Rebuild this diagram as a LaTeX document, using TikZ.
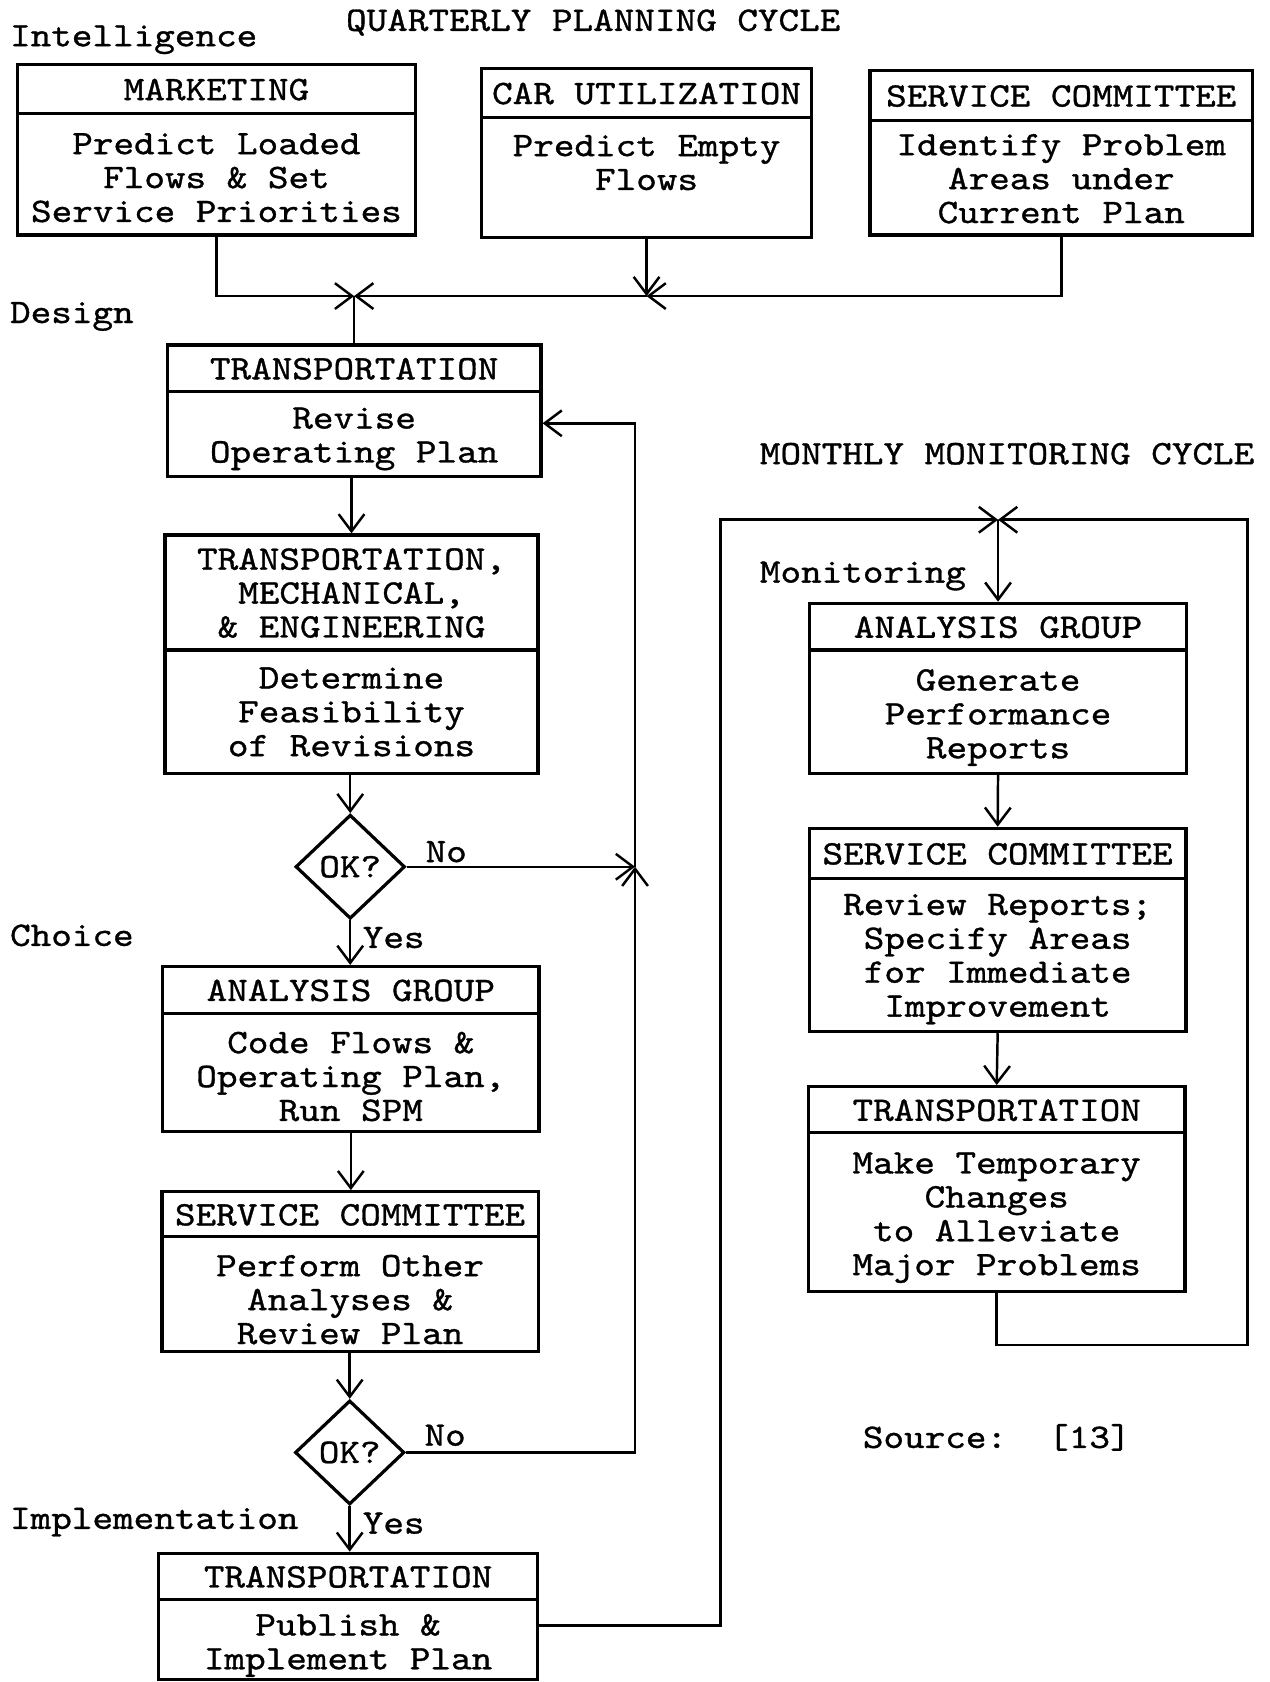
\documentclass[tikz,border=0pt]{standalone}
\usepackage{fontspec}
\setmainfont{lmmono10-regular.otf}[FakeStretch=1.143,FakeBold=1]
\usetikzlibrary{arrows.meta,shapes.geometric,fit,calc}

% Two-part process box: name, x1, y1, x2, y2, divider y, body centre y, header, body
\newcommand\procbox[9]{%
  \node[pbox, fit={(#2,#3) (#4,#5)}] (#1) {};
  \draw[line width=1.5pt] (#1.west |- 0,#6) -- (#1.east |- 0,#6);
  \node (#1-head) at ($(#2,#3)!0.5!(#4,#6)+(0,4)$) {\strut #8\strut};
  \node (#1-body) at ($(#1.center |- 0,#7)+(0,3)$) {\strut #9\strut};
}

\begin{document}
\setlength{\lineskiplimit}{-100pt}
\begin{tikzpicture}[x=0.5pt,y=-0.5pt,
  every node/.style={inner sep=0pt, align=center,
    font=\fontsize{16pt}{15.8pt}\selectfont},
  pbox/.style={draw, line width=1.5pt, inner sep=0pt},
  conn/.style={line width=1.15pt},
  arr/.style={conn, -{Straight Barb[length=8pt,width=12pt]}},
  decision/.style={draw, diamond, line width=1.5pt, minimum width=51pt, minimum height=48.5pt},
  stage/.style={anchor=west}]
\useasboundingbox (0,0) rectangle (1183,1568);

% headings and phase labels
\node (qpc) at (553,21) {QUARTERLY PLANNING CYCLE};
\node[stage] (lint) at (9,37) {Intelligence};
\node[stage] (ldes) at (9,295) {Design};
\node[stage] (lcho) at (9,872) {Choice};
\node[stage] (limp) at (9,1419) {Implementation};
\node[stage] (mmc) at (708,423) {MONTHLY MONITORING CYCLE};
\node[stage] (lmon) at (708,537) {Monitoring};
\node[stage] (src) at (804,1340) {Source:\ \ [13]};

% quarterly planning: intelligence
\procbox{mkt}{16.6}{60}{387}{219}{106}{166}{MARKETING}{Predict Loaded\\Flows \& Set\\Service Priorities}
\procbox{car}{449}{64}{756.5}{221.6}{109.4}{152}{CAR UTILIZATION}{Predict Empty\\Flows}
\procbox{scT}{811}{66}{1167.7}{219}{112}{167}{SERVICE COMMITTEE}{Identify Problem\\Areas under\\Current Plan}

% design and choice
\procbox{tr1}{156}{321.6}{504.3}{444.5}{365}{406}{TRANSPORTATION}{Revise\\Operating Plan}
\procbox{tme}{153.8}{498.7}{501.6}{720.8}{606}{664}{TRANSPORTATION,\\MECHANICAL,\\\& ENGINEERING}{Determine\\Feasibility\\of Revisions}
\node[decision] (d1) at (326.5,808) {OK?};
\procbox{ag1}{151.6}{901}{502.5}{1055}{944.6}{1004}{ANALYSIS GROUP}{Code Flows \&\\Operating Plan,\\Run SPM}
\procbox{sc1}{151}{1111}{501.7}{1260}{1153}{1212}{SERVICE COMMITTEE}{Perform Other\\Analyses \&\\Review Plan}
\node[decision] (d2) at (326,1354) {OK?};
\procbox{pub}{148}{1448}{501}{1566}{1491}{1531}{TRANSPORTATION}{Publish \&\\Implement Plan}

\node (no1) at (416,794) {No};
\node (yes1) at (367,874) {Yes};
\node (no2) at (415,1338) {No};
\node (yes2) at (367,1420) {Yes};

% monthly monitoring
\procbox{ag2}{754.5}{562.4}{1106.3}{721}{606}{666}{ANALYSIS GROUP}{Generate\\Performance\\Reports}
\procbox{sc2}{754.5}{772.2}{1105.6}{961.7}{818.8}{891}{SERVICE COMMITTEE}{Review Reports;\\Specify Areas\\for Immediate\\Improvement}
\procbox{tr2}{753.6}{1013}{1104.7}{1204}{1056}{1132}{TRANSPORTATION}{Make Temporary\\Changes\\to Alleviate\\Major Problems}

% junctions and corners
\coordinate (J1) at (tr1.north |- 0,276);
\coordinate (J2) at (car.south |- 0,276);
\coordinate (J3) at (d1.east -| 592,0);
\coordinate (K1) at (592,394.6);
\coordinate (J4) at (ag2.north |- 0,484.5);
\coordinate (c1) at (671.8,1515.5);
\coordinate (c2) at (671.8,484.5);
\coordinate (c3) at (1163,1254);
\coordinate (c4) at (1163,484.5);

% intelligence inputs merge into design
\draw[arr] (mkt.south) |- (J1);
\draw[arr] (car.south) -- (J2);
\draw[arr] (scT.south) |- (J2);
\draw[arr] (J2) -- (J1);
\draw[conn] (J1) -- (tr1.north);

% main planning sequence
\draw[arr] (tr1.south -| tme.north) -- (tme.north);
\draw[arr] (tme.south -| d1.north) -- (d1.north);
\draw[arr] (d1.south) -- (d1.south |- ag1.north);
\draw[arr] (ag1.south) -- (ag1.south |- sc1.north);
\draw[arr] (sc1.south -| d2.north) -- (d2.north);
\draw[arr] (d2.south) -- (d2.south |- pub.north);

% rejection loops back to revision
\draw[arr] (d1.east) -- (J3);
\draw[arr] (d2.east) -| (J3);
\draw[arr] (J3) -- (K1) -- (K1 -| tr1.east);

% monitoring cycle
\draw[arr] (c1 -| pub.east) -- (c1) -- (c2) -- (J4);
\draw[arr] (tr2.south) |- (c3) -- (c4) -- (J4);
\draw[arr] (J4) -- (ag2.north);
\draw[arr] (ag2.south) -- (sc2.north);
\draw[arr] (sc2.south) -- (tr2.north);
\end{tikzpicture}
\end{document}
